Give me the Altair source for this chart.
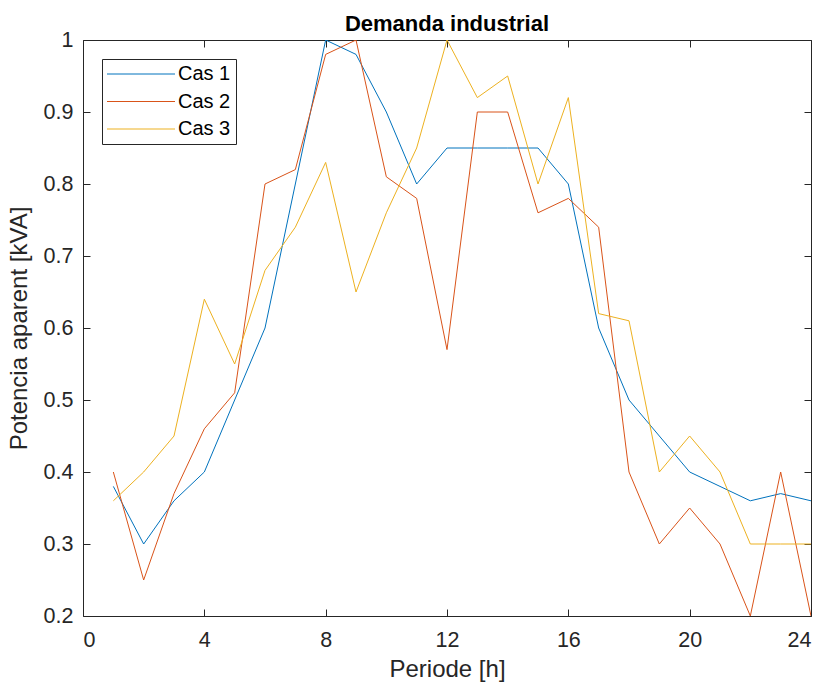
import altair as alt
import pandas as pd

hours = list(range(1, 25))
cas1 = [0.38, 0.30, 0.36, 0.40, 0.50, 0.60, 0.80, 1.00, 0.98, 0.90, 0.80, 0.85,
        0.85, 0.85, 0.85, 0.80, 0.60, 0.50, 0.45, 0.40, 0.38, 0.36, 0.37, 0.36]
cas2 = [0.40, 0.25, 0.37, 0.46, 0.51, 0.80, 0.82, 0.98, 1.00, 0.81, 0.78, 0.57,
        0.90, 0.90, 0.76, 0.78, 0.74, 0.40, 0.30, 0.35, 0.30, 0.20, 0.40, 0.20]
cas3 = [0.36, 0.40, 0.45, 0.64, 0.55, 0.68, 0.74, 0.83, 0.65, 0.76, 0.85, 1.00,
        0.92, 0.95, 0.80, 0.92, 0.62, 0.61, 0.40, 0.45, 0.40, 0.30, 0.30, 0.30]
series_names = ["Cas 1", "Cas 2", "Cas 3"]
series_colors = ["#0072BD", "#D95319", "#EDB120"]
x_ticks = [0, 4, 8, 12, 16, 20, 24]
y_ticks = [0.2, 0.3, 0.4, 0.5, 0.6, 0.7, 0.8, 0.9, 1.0]

rows = []
for name, vals in zip(series_names, [cas1, cas2, cas3]):
    for h, v in zip(hours, vals):
        rows.append({"h": h, "v": v, "serie": name})
df = pd.DataFrame(rows)

FONT = "Liberation Sans"
AX = "#262626"
inside = {"expr": "-7"}

xscale = alt.Scale(domain=[0, 24], nice=False, zero=False)
yscale = alt.Scale(domain=[0.2, 1.0], nice=False, zero=False)

lines = alt.Chart(df).mark_line(strokeWidth=1, clip=True).encode(
    x=alt.X("h:Q", scale=xscale,
            axis=alt.Axis(orient="bottom", values=x_ticks, title="Periode [h]",
                          tickSize=inside, labelPadding=20, grid=False,
                          titlePadding=7)),
    y=alt.Y("v:Q", scale=yscale,
            axis=alt.Axis(orient="left", values=y_ticks, format="~g",
                          title="Potencia aparent [kVA]",
                          tickSize=inside, labelPadding=17, grid=False,
                          titlePadding=12)),
    color=alt.Color("serie:N",
                    scale=alt.Scale(domain=series_names, range=series_colors),
                    legend=alt.Legend(title=None, orient="none", legendX=19, legendY=19,
                                      symbolType="M-4.25,0H4.25", symbolSize=256,
                                      symbolOffset=24,
                                      symbolStrokeWidth=1, labelFontSize=20,
                                      labelFont=FONT, labelColor="#000000",
                                      labelOffset=27, rowPadding=7.5, padding=5,
                                      strokeColor=AX, fillColor="white")),
)

mirror = alt.Chart(df).mark_line(strokeOpacity=0).encode(
    x=alt.X("h:Q", scale=xscale,
            axis=alt.Axis(orient="top", values=x_ticks, labels=False, title=None,
                          tickSize=inside, grid=False)),
    y=alt.Y("v:Q", scale=yscale,
            axis=alt.Axis(orient="right", values=y_ticks, labels=False, title=None,
                          tickSize=inside, grid=False)),
)

chart = alt.layer(lines, mirror).resolve_axis(x="independent", y="independent").properties(
    width=728, height=576,
    title=alt.Title("Demanda industrial", fontSize=22, font=FONT, fontWeight="bold",
                    color="#000000", offset=0, baseline="alphabetic", dy=24),
    padding={"left": 83, "top": 40, "right": 14, "bottom": 70},
    autosize="none",
    background="white",
).configure_axis(
    domainColor=AX, tickColor=AX, labelColor=AX, titleColor=AX,
    labelFont=FONT, titleFont=FONT, labelFontSize=21.5, titleFontSize=24,
    titleFontWeight="normal", domainWidth=1, tickWidth=1,
).configure_view(stroke=None)

chart.save("out.html", embed_options={"renderer": "svg", "actions": False})
